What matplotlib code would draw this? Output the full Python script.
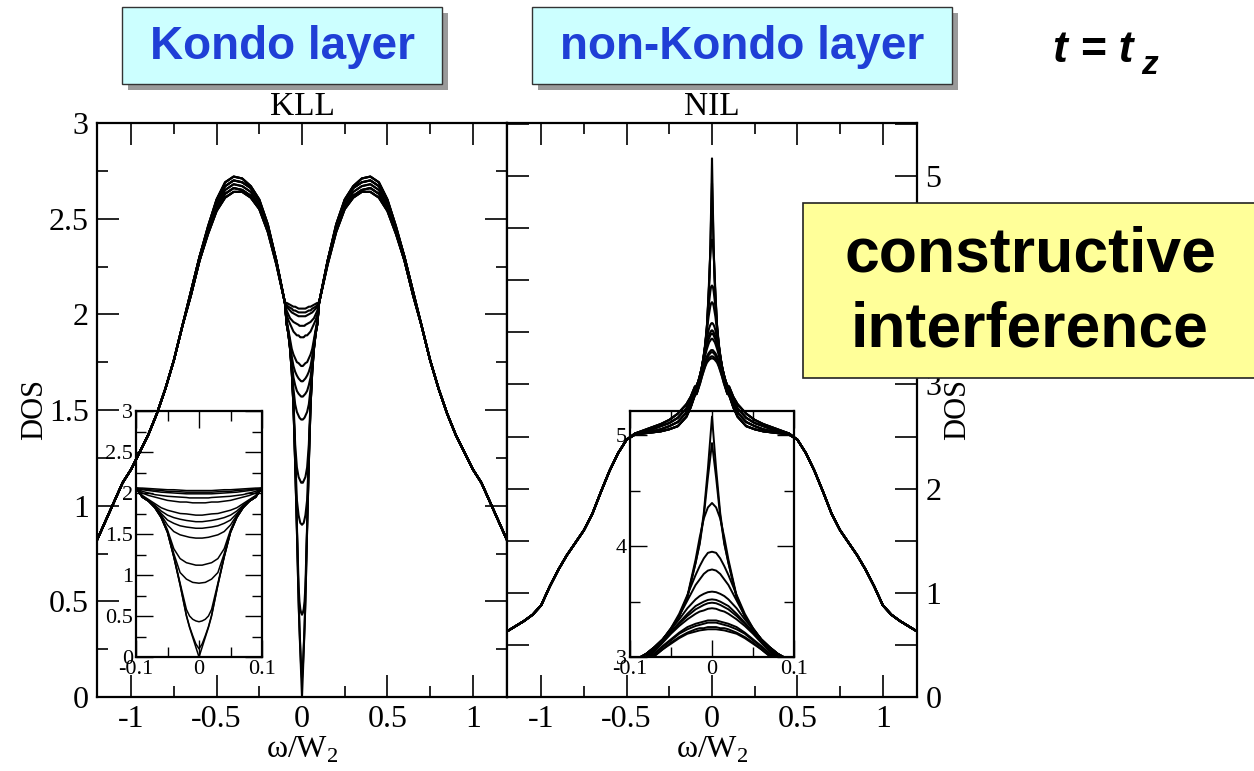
import numpy as np
import matplotlib
matplotlib.use("Agg")
import matplotlib.pyplot as plt
from matplotlib.patches import Rectangle
from matplotlib.ticker import MultipleLocator, FuncFormatter

plt.rcParams['font.family'] = ['Liberation Serif', 'DejaVu Serif']
plt.rcParams['mathtext.fontset'] = 'custom'
plt.rcParams['mathtext.rm'] = 'Liberation Serif'

# ---- data (curves are symmetric, only w >= 0 stored) ----
core_x = [0, 0.005, 0.01, 0.015, 0.02, 0.03, 0.04, 0.05, 0.06, 0.07, 0.08, 0.09]

# KLL: one row per curve, values at core_x
kll_core = [
    [0.00, 0.12, 0.24, 0.36, 0.50, 0.88, 1.22, 1.52, 1.70, 1.82, 1.90, 1.95],
    [0.10, 0.16, 0.26, 0.37, 0.51, 0.88, 1.22, 1.52, 1.70, 1.82, 1.90, 1.95],
    [0.43, 0.44, 0.46, 0.50, 0.58, 0.90, 1.23, 1.52, 1.70, 1.82, 1.90, 1.95],
    [0.90, 0.905, 0.91, 0.93, 0.95, 1.03, 1.26, 1.53, 1.71, 1.82, 1.90, 1.95],
    [1.12, 1.12, 1.13, 1.14, 1.15, 1.20, 1.32, 1.55, 1.72, 1.83, 1.90, 1.95],
    [1.45, 1.45, 1.455, 1.46, 1.47, 1.49, 1.53, 1.61, 1.73, 1.83, 1.90, 1.95],
    [1.57, 1.57, 1.575, 1.58, 1.585, 1.60, 1.63, 1.67, 1.75, 1.84, 1.91, 1.96],
    [1.65, 1.65, 1.655, 1.66, 1.665, 1.68, 1.70, 1.73, 1.78, 1.85, 1.91, 1.96],
    [1.73, 1.73, 1.735, 1.74, 1.745, 1.75, 1.77, 1.79, 1.82, 1.87, 1.92, 1.97],
    [1.88, 1.88, 1.88, 1.885, 1.89, 1.89, 1.90, 1.91, 1.93, 1.95, 1.97, 2.00],
    [1.94, 1.94, 1.94, 1.94, 1.945, 1.95, 1.955, 1.96, 1.97, 1.98, 2.00, 2.02],
    [1.99, 1.99, 1.99, 1.99, 1.99, 1.995, 2.00, 2.005, 2.01, 2.02, 2.03, 2.04],
    [2.01, 2.01, 2.01, 2.01, 2.01, 2.015, 2.02, 2.02, 2.03, 2.035, 2.04, 2.05],
    [2.03, 2.03, 2.03, 2.03, 2.03, 2.035, 2.04, 2.04, 2.045, 2.05, 2.055, 2.06],
]
kll_outer_x = [0.1, 0.15, 0.2, 0.25, 0.3, 0.35, 0.4, 0.45, 0.5, 0.55, 0.6, 0.65,
               0.7, 0.75, 0.8, 0.85, 0.9, 0.95, 1.0, 1.05, 1.1, 1.15, 1.2]
kll_tail = [1.94, 1.76, 1.61, 1.48, 1.37, 1.28, 1.19, 1.12, 1.02, 0.92, 0.82]
kll_outer_a = [2.06, 2.28, 2.47, 2.60, 2.67, 2.71, 2.72, 2.69, 2.60, 2.46, 2.30, 2.12] + kll_tail
kll_outer_b = [2.06, 2.28, 2.46, 2.59, 2.66, 2.69, 2.70, 2.67, 2.59, 2.45, 2.30, 2.12] + kll_tail
kll_outer_c = [2.06, 2.27, 2.45, 2.57, 2.64, 2.67, 2.68, 2.65, 2.57, 2.44, 2.29, 2.11] + kll_tail
kll_outer_d = [2.06, 2.27, 2.44, 2.56, 2.62, 2.65, 2.66, 2.63, 2.55, 2.43, 2.28, 2.10] + kll_tail
kll_outer_e = [2.06, 2.26, 2.43, 2.55, 2.61, 2.64, 2.64, 2.61, 2.54, 2.42, 2.28, 2.10] + kll_tail
kll_pick = [0, 0, 0, 1, 1, 1, 2, 2, 3, 3, 3, 4, 4, 4]

# NIL
nil_core = [
    [5.17, 4.70, 4.30, 4.03, 3.85, 3.54, 3.37, 3.25, 3.16, 3.09, 3.03, 2.99],
    [4.93, 4.62, 4.27, 4.02, 3.85, 3.54, 3.37, 3.25, 3.16, 3.09, 3.03, 2.99],
    [4.39, 4.35, 4.25, 4.08, 3.88, 3.55, 3.37, 3.25, 3.16, 3.09, 3.03, 2.99],
    [3.95, 3.94, 3.89, 3.82, 3.74, 3.56, 3.39, 3.26, 3.16, 3.09, 3.03, 2.98],
    [3.79, 3.78, 3.75, 3.70, 3.65, 3.51, 3.37, 3.26, 3.16, 3.09, 3.03, 2.98],
    [3.59, 3.585, 3.57, 3.55, 3.52, 3.44, 3.34, 3.25, 3.16, 3.08, 3.01, 2.95],
    [3.52, 3.515, 3.50, 3.48, 3.46, 3.39, 3.31, 3.23, 3.15, 3.07, 3.00, 2.94],
    [3.49, 3.485, 3.47, 3.45, 3.43, 3.37, 3.30, 3.22, 3.14, 3.06, 2.99, 2.93],
    [3.44, 3.435, 3.42, 3.41, 3.39, 3.34, 3.28, 3.21, 3.13, 3.05, 2.98, 2.92],
    [3.33, 3.33, 3.32, 3.31, 3.30, 3.27, 3.22, 3.16, 3.10, 3.03, 2.97, 2.91],
    [3.31, 3.31, 3.30, 3.29, 3.28, 3.25, 3.21, 3.15, 3.09, 3.03, 2.97, 2.91],
    [3.27, 3.27, 3.26, 3.26, 3.25, 3.22, 3.18, 3.13, 3.07, 3.01, 2.96, 2.91],
    [3.25, 3.25, 3.245, 3.24, 3.23, 3.21, 3.17, 3.12, 3.07, 3.01, 2.96, 2.91],
]
nil_outer_x = [0.1, 0.125, 0.15, 0.2, 0.25, 0.3, 0.35, 0.4, 0.45, 0.5, 0.55, 0.6,
               0.65, 0.7, 0.75, 0.8, 0.85, 0.9, 0.95, 1.0, 1.05, 1.1, 1.15, 1.2]
nil_tail = [2.47, 2.34, 2.17, 1.97, 1.76, 1.60, 1.48, 1.36, 1.22, 1.06, 0.88, 0.79,
            0.73, 0.68, 0.63]
nil_outer_a = [2.98, 2.88, 2.81, 2.72, 2.66, 2.62, 2.59, 2.56, 2.53] + nil_tail
nil_outer_b = [2.96, 2.85, 2.77, 2.68, 2.63, 2.60, 2.57, 2.55, 2.53] + nil_tail
nil_outer_c = [2.93, 2.81, 2.73, 2.64, 2.60, 2.57, 2.55, 2.54, 2.52] + nil_tail
nil_outer_d = [2.90, 2.78, 2.69, 2.60, 2.57, 2.55, 2.54, 2.53, 2.52] + nil_tail
nil_pick = [0, 0, 0, 1, 1, 2, 1, 2, 3, 2, 3, 3, 3]


def full_curve(core, ox, oy):
    xh = np.array(core_x + ox)
    yh = np.array(core + oy)
    return np.concatenate([-xh[::-1], xh[1:]]), np.concatenate([yh[::-1], yh[1:]])


W, H = 1254, 771
fig = plt.figure(figsize=(W / 100, H / 100), dpi=100)


def box(x0, y0, x1, y1):
    return [x0 / W, 1 - y1 / H, (x1 - x0) / W, (y1 - y0) / H]


ax1 = fig.add_axes(box(97, 123, 507, 697))
ax2 = fig.add_axes(box(507, 123, 917, 697))
in1 = fig.add_axes(box(136, 411, 262, 657))
in2 = fig.add_axes(box(630, 411, 794, 657))

kll_outers = [kll_outer_a, kll_outer_b, kll_outer_c, kll_outer_d, kll_outer_e]
nil_outers = [nil_outer_a, nil_outer_b, nil_outer_c, nil_outer_d]
for row, p in zip(kll_core, kll_pick):
    x, y = full_curve(row, kll_outer_x, kll_outers[p])
    ax1.plot(x, y, color='black', lw=1.5)
    in1.plot(x, y, color='black', lw=1.1)
for row, p in zip(nil_core, nil_pick):
    x, y = full_curve(row, nil_outer_x, nil_outers[p])
    ax2.plot(x, y, color='black', lw=1.5)
    in2.plot(x, y, color='black', lw=1.4)

fmt = FuncFormatter(lambda v, pos: '%g' % v)

for ax in (ax1, ax2):
    ax.set_xlim(-1.2, 1.2)
    ax.xaxis.set_major_locator(MultipleLocator(0.5))
    ax.xaxis.set_minor_locator(MultipleLocator(0.25))
    ax.xaxis.set_major_formatter(fmt)
    ax.tick_params(which='both', direction='in', top=True, right=True, left=True,
                   labelsize=23, width=1.2, pad=6)
    ax.tick_params(which='major', length=16)
    ax.tick_params(which='minor', length=8)
    ax.set_xlabel('ω/W$_2$', fontsize=23, labelpad=0)
    for s in ax.spines.values():
        s.set_linewidth(1.6)

ax1.set_ylim(0, 3)
ax1.yaxis.set_major_locator(MultipleLocator(0.5))
ax1.yaxis.set_minor_locator(MultipleLocator(0.25))
ax1.yaxis.set_major_formatter(fmt)
ax1.set_ylabel('DOS', fontsize=22, labelpad=0)
ax1.set_title('KLL', fontsize=24, pad=6)

ax2.set_ylim(0, 5.51)
ax2.yaxis.set_major_locator(MultipleLocator(1))
ax2.yaxis.set_minor_locator(MultipleLocator(0.5))
ax2.yaxis.set_major_formatter(fmt)
ax2.tick_params(axis='y', which='minor', length=16)
ax2.tick_params(axis='y', labelleft=False, labelright=True)
ax2.yaxis.set_label_position('right')
ax2.set_ylabel('DOS', fontsize=22, labelpad=1)
ax2.set_title('NIL', fontsize=24, pad=6)

for ax in (in1, in2):
    ax.set_facecolor('none')
    ax.set_xlim(-0.1, 0.1)
    ax.xaxis.set_major_locator(MultipleLocator(0.1))
    ax.xaxis.set_minor_locator(MultipleLocator(0.05))
    ax.xaxis.set_major_formatter(fmt)
    ax.tick_params(which='both', direction='in', top=True, right=True,
                   labelsize=16, width=1.0, pad=2)
    ax.tick_params(which='major', length=12)
    ax.tick_params(which='minor', length=7)
    for s in ax.spines.values():
        s.set_linewidth(1.6)

in1.set_ylim(0, 3)
in1.yaxis.set_major_locator(MultipleLocator(0.5))
in1.yaxis.set_minor_locator(MultipleLocator(0.25))
in1.yaxis.set_major_formatter(fmt)
in2.set_ylim(3, 5.22)
in2.yaxis.set_major_locator(MultipleLocator(1))
in2.yaxis.set_minor_locator(MultipleLocator(0.5))
in2.yaxis.set_major_formatter(fmt)

# ---- slide annotations ----
sans = ['Liberation Sans', 'DejaVu Sans']


def fig_rect(x0, y0, x1, y1, **kw):
    r = Rectangle((x0 / W, 1 - y1 / H), (x1 - x0) / W, (y1 - y0) / H,
                  transform=fig.transFigure, **kw)
    fig.patches.append(r)


for (x0, x1, label) in [(122, 442, 'Kondo layer'), (532, 952, 'non-Kondo layer')]:
    fig_rect(x0 + 6, 13, x1 + 6, 90, facecolor='#9a9a9a', edgecolor='none', zorder=5)
    fig_rect(x0, 7, x1, 84, facecolor='#ccffff', edgecolor='#333333', lw=1.0, zorder=6)
    fig.text((x0 + x1) / 2 / W, 1 - 47 / H, label, family=sans, weight='bold',
             fontsize=33, color='#1f3fd6', ha='center', va='center', zorder=7)

fig_rect(803, 203, 1262, 378, facecolor='#ffff99', edgecolor='#222222', lw=1.2, zorder=6)
fig.text(1030 / W, 1 - 255 / H, 'constructive', family=sans, weight='bold',
         fontsize=45, ha='center', va='center', zorder=7)
fig.text(1030 / W, 1 - 330 / H, 'interference', family=sans, weight='bold',
         fontsize=45, ha='center', va='center', zorder=7)

fig.text(1053 / W, 1 - 50 / H, 't = t', family=sans, weight='bold', style='italic',
         fontsize=32, ha='left', va='center')
fig.text(1141 / W, 1 - 66 / H, 'z', family=sans, weight='bold', style='italic',
         fontsize=24, ha='left', va='center')

fig.savefig('out.png', dpi=100)
